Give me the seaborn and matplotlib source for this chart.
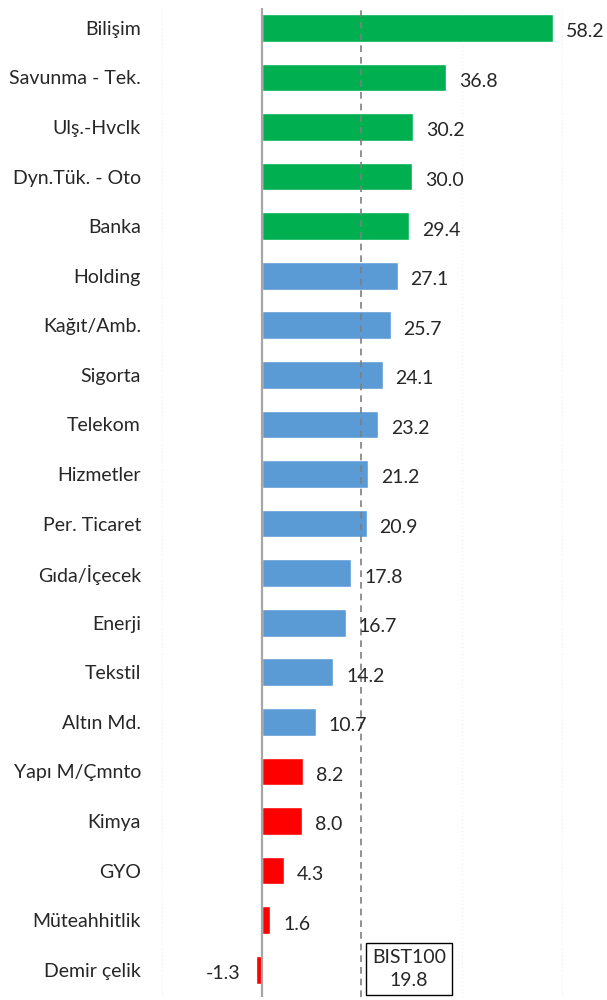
import pandas as pd
import seaborn as sns
import matplotlib.pyplot as plt

sectors = ['Bilişim', 'Savunma - Tek.', 'Ulş.-Hvclk', 'Dyn.Tük. - Oto', 'Banka',
           'Holding', 'Kağıt/Amb.', 'Sigorta', 'Telekom', 'Hizmetler',
           'Per. Ticaret', 'Gıda/İçecek', 'Enerji', 'Tekstil', 'Altın Md.',
           'Yapı M/Çmnto', 'Kimya', 'GYO', 'Müteahhitlik', 'Demir çelik']
returns = [58.2, 36.8, 30.2, 30.0, 29.4,
           27.1, 25.7, 24.1, 23.2, 21.2,
           20.9, 17.8, 16.7, 14.2, 10.7,
           8.2, 8.0, 4.3, 1.6, -1.3]
groups = ['top'] * 5 + ['mid'] * 10 + ['low'] * 5
bist100 = 19.8

colors = {'top': '#00B050', 'mid': '#5B9BD5', 'low': '#FF0000'}

df = pd.DataFrame({'sector': sectors, 'ret': returns, 'grp': groups})

sns.set_style('white')
plt.rcParams['font.family'] = ['Lato', 'DejaVu Sans']

fig = plt.figure(figsize=(6.07, 10), dpi=100)
ax = fig.add_axes([152 / 607, 3 / 1000, 440 / 607, 989 / 1000])

sns.barplot(data=df, y='sector', x='ret', hue='grp', palette=colors, saturation=1,
            orient='h', width=0.56, dodge=False, legend=False, ax=ax)

# faint grid
for gx in [-20, 40, 60]:
    ax.axvline(gx, color='#F2F2F2', lw=1, ls=':', zorder=0)
ax.axvline(0, color='#A6A6A6', lw=1.6, zorder=3)
ax.axvline(bist100, color='#7F7F7F', lw=1.2, ls=(0, (4, 3)), zorder=3)

# value labels
for i, v in enumerate(returns):
    if v >= 0:
        ax.text(v + 2.6, i + 0.08, f'{v:.1f}', va='center', ha='left', fontsize=14)
    else:
        ax.text(v - 3.0, i + 0.08, f'{v:.1f}', va='center', ha='right', fontsize=14)

ax.text(29.4, len(sectors) - 1.02, f'BIST100\n{bist100}', ha='center', va='center',
        fontsize=14, linespacing=1.45,
        bbox=dict(boxstyle='square,pad=0.3', fc='white', ec='black', lw=1))

ax.set_xlim(-22, 66)
ax.set_ylim(len(sectors) - 0.45, -0.4)
ax.set_xlabel('')
ax.set_ylabel('')
ax.set_xticks([])
ax.tick_params(axis='y', length=0, pad=8, labelsize=14)
for s in ax.spines.values():
    s.set_visible(False)

fig.savefig('out.png', dpi=100)
